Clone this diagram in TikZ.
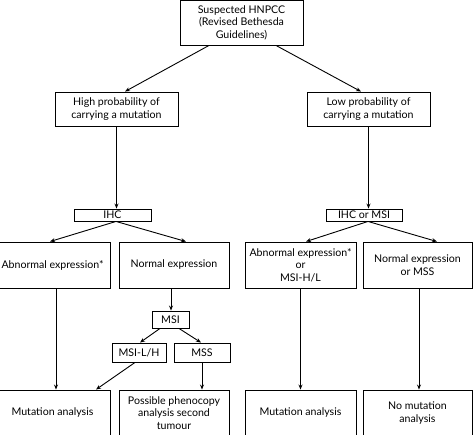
\documentclass[tikz,border=0pt]{standalone}
\usepackage{fontspec}
\setmainfont{Lato}
\usepackage{tikz}
\usetikzlibrary{arrows.meta}

\begin{document}
\begin{tikzpicture}[x=1pt, y=-1pt, line width=0.9pt, every node/.style={font=\fontsize{10.6}{12.5}\selectfont},
	box/.style={draw, rectangle, inner sep=0pt, align=center},
	arr/.style={-{Stealth[length=5pt,width=4pt]}},]
\useasboundingbox (0,0) rectangle (474,435);
\clip (0,0) rectangle (474,435);
\node[box, minimum width=123pt, minimum height=44.5pt] (susp) at (241.5,22.75) {Suspected HNPCC\\(Revised Bethesda\\Guidelines)};
\node[box, minimum width=123pt, minimum height=34pt] (high) at (116.5,109) {High probability of\\carrying a mutation};
\node[box, minimum width=123pt, minimum height=34pt] (low) at (368.5,109) {Low probability of\\carrying a mutation};
\node[box, minimum width=77pt, minimum height=12pt] (ihc) at (112.5,215) {IHC};
\node[box, minimum width=76pt, minimum height=12pt] (ihcmsi) at (364,215) {IHC or MSI};
\node[box, minimum width=115pt, minimum height=46pt] (abnL) at (52.5,265) {Abnormal expression*};
\node[box, minimum width=110pt, minimum height=46pt] (normL) at (174,265) {Normal expression};
\node[box, minimum width=111pt, minimum height=46pt] (abnR) at (300.5,265) {Abnormal expression*\\or\\MSI-H/L};
\node[box, minimum width=109pt, minimum height=46pt] (normR) at (417.5,265) {Normal expression\\or MSS};
\node[box, minimum width=37pt, minimum height=17pt] (msi) at (170.5,319.5) {MSI};
\node[box, minimum width=54pt, minimum height=19pt] (msilh) at (139,352.5) {MSI-L/H};
\node[box, minimum width=56pt, minimum height=19pt] (mss) at (202,352.5) {MSS};
\node[box, minimum width=115pt, minimum height=46pt] (mutL) at (52.5,413) {Mutation analysis};
\node[box, minimum width=110pt, minimum height=46pt] (pheno) at (174,413) {Possible phenocopy\\analysis second\\tumour};
\node[box, minimum width=111pt, minimum height=46pt] (mutR) at (300.5,413) {Mutation analysis};
\node[box, minimum width=109pt, minimum height=46pt] (nomut) at (417.5,413) {No mutation\\analysis};

\draw[arr] ([xshift=-32.5pt]susp.south) -- ([xshift=8.5pt]high.north);
\draw[arr] ([xshift=34.5pt]susp.south) -- ([xshift=-7.5pt]low.north);
\draw[arr] (high.south) -- (high.south |- ihc.north);
\draw[arr] (low.south) -- (low.south |- ihcmsi.north);
\draw[arr] ([xshift=3.5pt]ihc.south) -- ([xshift=-2.5pt]abnL.north);
\draw[arr] ([xshift=3.5pt]ihc.south) -- ([xshift=12pt]normL.north);
\draw[arr] ([xshift=4pt]ihcmsi.south) -- ([xshift=5.5pt]abnR.north);
\draw[arr] ([xshift=4pt]ihcmsi.south) -- ([xshift=19.5pt]normR.north);
\draw[arr] ([xshift=3.5pt]abnL.south) -- ([xshift=3.5pt]mutL.north);
\draw[arr] ([xshift=-3pt]normL.south) -- ([xshift=-3pt]normL.south |- msi.north);
\draw[arr] ([xshift=-10.5pt]msi.south) -- ([xshift=1pt]msilh.north);
\draw[arr] ([xshift=8.5pt]msi.south) -- ([xshift=-1pt]mss.north);
\draw[arr] ([xshift=-4pt]msilh.south) -- ([xshift=43.5pt]mutL.north);
\draw[arr] (mss.south) -- (mss.south |- pheno.north);
\draw[arr] (abnR.south) -- (abnR.south |- mutR.north);
\draw[arr] ([xshift=1.5pt]normR.south) -- ([xshift=1.5pt]nomut.north);
\end{tikzpicture}
\end{document}
